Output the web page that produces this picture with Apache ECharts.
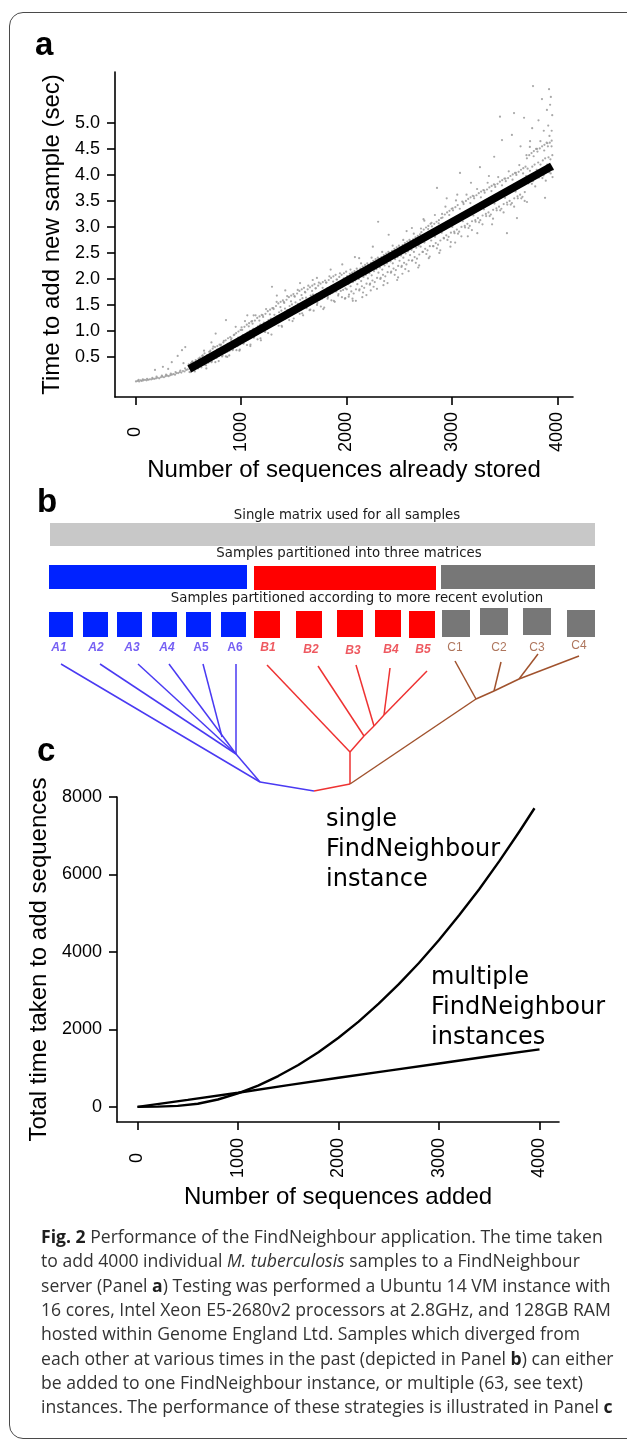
<!DOCTYPE html>
<html><head><meta charset="utf-8">
<script src="https://cdn.jsdelivr.net/npm/echarts@6/dist/echarts.min.js"></script>
<style>
html,body{margin:0;padding:0;background:#fff;}
body{width:627px;height:1441px;overflow:hidden;position:relative;}
#frame{position:absolute;left:9px;top:12px;width:680px;height:1427px;border:1.4px solid #4a4a4a;border-radius:14px;box-sizing:border-box;}
#chart{position:absolute;left:0;top:0;width:627px;height:1441px;}
</style></head><body>
<div id="frame"></div><div id="chart"></div>
<script>
// ---------- Panel a data ----------
const aXTicks = [0, 1000, 2000, 3000, 4000];
const aYTicks = [0.5, 1.0, 1.5, 2.0, 2.5, 3.0, 3.5, 4.0, 4.5, 5.0];
const aXTitle = 'Number of sequences already stored';
const aYTitle = 'Time to add new sample (sec)';
const fitLine = [[510, 0.27], [3948, 4.17]];
const addTimes = [
[5,0.03],[20,0.04],[30,0.06],[35,0.03],[50,0.05],[60,0.04],[70,0.07],[75,0.05],[90,0.06],[105,0.05],[110,0.08],[120,0.06],[135,0.07],[150,0.07],[160,0.10],[165,0.08],[180,0.08],[185,0.25],[195,0.09],[200,0.12],[210,0.10],[225,0.09],[240,0.11],[250,0.14],[255,0.12],[260,0.31],[270,0.11],[285,0.13],[290,0.16],[300,0.14],[310,0.27],[315,0.13],[330,0.15],[335,0.18],[344,0.40],[345,0.16],[360,0.17],[375,0.16],[380,0.21],[390,0.19],[400,0.52],[405,0.19],[420,0.21],[425,0.24],[435,0.20],[441,0.63],[450,0.23],[455,0.38],[465,0.22],[470,0.28],[472,0.69],[480,0.25],[495,0.26],
[505,0.36],[512,0.21],[519,0.30],[527,0.38],[534,0.24],[541,0.41],[548,0.27],[556,0.35],[563,0.22],[571,0.44],[578,0.31],[586,0.39],[593,0.28],[598,0.47],
[604,0.33],[611,0.49],[618,0.40],[625,0.30],[633,0.52],[640,0.44],[647,0.36],[655,0.57],[662,0.41],[669,0.34],[677,0.53],[684,0.46],[691,0.39],[698,0.60],[650,0.62],[672,0.28],
[703,0.45],[710,0.62],[717,0.55],[724,0.42],[732,0.66],[739,0.52],[746,0.47],[754,0.69],[761,0.58],[768,0.48],[776,0.71],[783,0.60],[790,0.52],[797,0.74],[720,0.78],[760,0.95],
[804,0.55],[811,0.74],[818,0.66],[825,0.53],[833,0.78],[840,0.63],[847,0.58],[855,0.82],[862,0.70],[869,0.60],[877,0.86],[884,0.74],[891,0.62],[898,0.88],[858,1.21],[870,0.50],
[903,0.68],[910,0.86],[917,0.78],[924,0.65],[932,0.92],[939,0.75],[946,0.70],[954,0.96],[961,0.82],[968,0.71],[976,0.99],[983,0.86],[990,0.74],[997,1.02],[950,1.08],[985,0.62],
[1004,0.80],[1011,1.02],[1018,0.92],[1025,0.76],[1033,1.08],[1040,0.90],[1047,0.82],[1055,1.12],[1062,0.97],[1069,0.84],[1077,1.15],[1084,1.00],[1091,0.86],[1098,1.18],[1060,1.30],[1090,0.74],
[1103,0.92],[1110,1.14],[1117,1.04],[1124,0.88],[1132,1.20],[1139,1.01],[1146,0.94],[1154,1.25],[1161,1.09],[1168,0.96],[1176,1.28],[1183,1.12],[1190,0.99],[1197,1.31],[1120,1.30],[1185,0.86],
[1203,1.05],[1210,1.27],[1217,1.16],[1224,1.00],[1232,1.33],[1239,1.13],[1246,1.06],[1254,1.38],[1261,1.21],[1268,1.08],[1276,1.41],[1283,1.24],[1290,1.11],[1297,1.44],[1230,0.98],[1294,1.85],
[1303,1.20],[1310,1.42],[1317,1.31],[1324,1.15],[1332,1.48],[1339,1.28],[1346,1.21],[1354,1.53],[1361,1.36],[1368,1.23],[1376,1.56],[1383,1.39],[1390,1.26],[1397,1.59],[1340,1.68],[1385,1.10],
[1403,1.31],[1410,1.54],[1417,1.43],[1424,1.26],[1432,1.60],[1439,1.40],[1446,1.33],[1454,1.65],[1461,1.48],[1468,1.35],[1476,1.68],[1483,1.51],[1490,1.38],[1497,1.71],[1420,1.78],[1500,1.24],
[1503,1.43],[1510,1.66],[1517,1.55],[1524,1.38],[1532,1.72],[1539,1.52],[1546,1.45],[1554,1.77],[1561,1.60],[1568,1.47],[1576,1.80],[1583,1.63],[1590,1.50],[1597,1.83],[1560,1.92],[1580,1.34],
[1603,1.52],[1610,1.74],[1617,1.64],[1624,1.47],[1632,1.80],[1639,1.60],[1646,1.53],[1654,1.84],[1661,1.68],[1668,1.55],[1676,1.87],[1683,1.70],[1690,1.58],[1697,1.90],[1680,1.98],[1650,1.40],
[1703,1.59],[1710,1.82],[1717,1.71],[1724,1.54],[1732,1.87],[1739,1.67],[1746,1.60],[1754,1.91],[1761,1.75],[1768,1.62],[1776,1.94],[1783,1.77],[1790,1.65],[1797,1.97],[1780,1.42],[1720,2.02],
[1803,1.70],[1810,1.93],[1817,1.82],[1824,1.65],[1832,1.98],[1839,1.78],[1846,1.71],[1854,2.02],[1861,1.86],[1868,1.73],[1876,2.05],[1883,1.88],[1890,1.76],[1897,2.08],[1850,2.18],[1880,1.58],
[1903,1.76],[1910,1.99],[1917,1.88],[1924,1.71],[1932,2.04],[1939,1.84],[1946,1.77],[1954,2.08],[1961,1.92],[1968,1.79],[1976,2.11],[1983,1.94],[1990,1.82],[1997,2.14],[1960,2.28],[1985,1.62],
[2003,1.80],[2010,2.05],[2017,1.90],[2024,1.70],[2032,2.10],[2039,1.86],[2046,1.76],[2054,2.12],[2061,1.94],[2068,1.72],[2076,2.15],[2083,1.97],[2090,1.80],[2097,2.20],[2080,2.42],[2060,1.58],
[2103,1.90],[2110,2.15],[2117,2.00],[2124,1.80],[2132,2.20],[2139,1.96],[2146,1.86],[2154,2.24],[2161,2.04],[2168,1.83],[2176,2.27],[2183,2.08],[2190,1.91],[2197,2.30],[2150,1.65],[2120,2.40],
[2203,2.01],[2210,2.26],[2217,2.11],[2224,1.91],[2232,2.31],[2239,2.07],[2246,1.97],[2254,2.35],[2261,2.15],[2268,1.94],[2276,2.38],[2283,2.19],[2290,2.02],[2297,2.41],[2250,2.62],[2230,1.78],
[2303,2.12],[2310,2.37],[2317,2.22],[2324,2.02],[2332,2.42],[2339,2.18],[2346,2.08],[2354,2.46],[2361,2.26],[2368,2.05],[2376,2.49],[2383,2.30],[2390,2.13],[2397,2.52],[2300,3.10],[2350,1.88],
[2403,2.24],[2410,2.49],[2417,2.34],[2424,2.14],[2432,2.54],[2439,2.30],[2446,2.20],[2454,2.58],[2461,2.38],[2468,2.17],[2476,2.61],[2483,2.42],[2490,2.25],[2497,2.64],[2400,2.85],[2480,1.98],
[2503,2.35],[2510,2.60],[2517,2.45],[2524,2.25],[2532,2.65],[2539,2.41],[2546,2.31],[2554,2.69],[2561,2.49],[2568,2.28],[2576,2.72],[2583,2.53],[2590,2.36],[2597,2.75],[2530,2.10],[2570,2.92],
[2603,2.46],[2610,2.71],[2617,2.56],[2624,2.36],[2632,2.76],[2639,2.52],[2646,2.42],[2654,2.80],[2661,2.60],[2668,2.39],[2676,2.83],[2683,2.64],[2690,2.47],[2697,2.86],[2620,2.98],[2680,2.22],
[2703,2.62],[2710,2.90],[2717,2.74],[2724,2.52],[2732,2.95],[2739,2.70],[2746,2.58],[2754,2.99],[2761,2.78],[2768,2.55],[2776,3.02],[2783,2.82],[2790,2.63],[2797,3.06],[2780,2.40],[2730,3.15],
[2803,2.74],[2810,3.01],[2817,2.85],[2824,2.63],[2832,3.06],[2839,2.81],[2846,2.69],[2854,3.10],[2861,2.89],[2868,2.66],[2876,3.13],[2883,2.93],[2890,2.74],[2897,3.17],[2858,3.75],[2880,2.50],
[2903,2.89],[2910,3.18],[2917,3.01],[2924,2.78],[2932,3.24],[2939,2.97],[2946,2.84],[2954,3.28],[2961,3.06],[2968,2.81],[2976,3.31],[2983,3.10],[2990,2.89],[2997,3.35],[2950,3.55],[2985,2.62],
[3003,3.00],[3010,3.32],[3017,3.13],[3024,2.88],[3032,3.38],[3039,3.09],[3046,2.95],[3054,3.42],[3061,3.18],[3068,2.91],[3076,4.04],[3083,3.22],[3090,3.00],[3097,3.49],[3050,3.62],[3030,2.70],
[3103,3.11],[3110,3.44],[3117,3.24],[3124,2.99],[3132,3.50],[3139,3.20],[3146,3.06],[3154,3.54],[3161,3.29],[3168,3.02],[3176,3.57],[3183,3.33],[3190,3.11],[3197,3.60],[3180,3.85],[3150,2.82],
[3203,3.22],[3210,3.55],[3217,3.35],[3224,3.10],[3232,3.61],[3239,3.31],[3246,3.17],[3254,3.65],[3261,3.40],[3268,3.13],[3276,3.68],[3283,3.44],[3290,3.22],[3297,3.71],[3265,4.15],[3240,2.88],
[3303,3.34],[3310,3.66],[3317,3.47],[3324,3.21],[3332,3.72],[3339,3.43],[3346,3.28],[3354,3.76],[3361,3.51],[3368,3.24],[3376,3.79],[3383,3.55],[3390,3.33],[3397,3.82],[3380,3.05],[3350,3.98],
[3403,3.45],[3410,3.77],[3417,3.58],[3424,3.32],[3432,3.83],[3439,3.54],[3446,3.39],[3454,3.87],[3461,3.62],[3468,3.35],[3476,3.90],[3483,3.66],[3490,3.44],[3497,3.93],[3455,5.12],[3474,4.67],[3400,4.35],
[3503,3.56],[3510,3.88],[3517,3.69],[3524,3.43],[3532,3.94],[3539,3.65],[3546,3.50],[3554,3.98],[3561,3.73],[3568,3.46],[3576,4.01],[3583,3.77],[3590,3.55],[3597,4.04],[3588,5.19],[3568,4.77],[3521,2.88],
[3603,3.68],[3610,4.00],[3617,3.81],[3624,3.55],[3632,4.06],[3639,3.77],[3646,3.62],[3654,4.10],[3661,3.85],[3668,3.58],[3676,4.13],[3683,3.89],[3690,3.67],[3697,4.16],[3683,5.10],[3616,3.17],[3650,4.55],
[3703,3.98],[3710,4.32],[3717,4.12],[3724,3.84],[3732,4.38],[3739,4.08],[3746,3.92],[3754,4.42],[3761,4.16],[3768,3.88],[3776,4.46],[3783,4.20],[3790,3.96],[3797,4.50],[3768,5.71],[3711,3.48],[3760,4.90],[3740,4.65],
[3803,4.10],[3810,4.45],[3817,4.24],[3824,3.95],[3832,4.51],[3839,4.20],[3846,4.03],[3854,4.55],[3861,4.28],[3868,3.99],[3876,4.58],[3883,4.32],[3890,4.08],[3897,4.62],[3853,5.46],[3882,3.56],[3820,5.05],[3870,4.85],
[3903,4.20],[3909,4.55],[3915,4.34],[3921,4.05],[3927,4.62],[3933,4.30],[3939,4.12],[3945,4.66],[3951,4.38],[3956,4.10],[3920,5.65],[3937,5.50],[3900,5.25],[3950,5.15],[3930,5.35],[3945,4.85],[3912,4.95],
[506,0.34],[521,0.21],[538,0.41],[557,0.24],[574,0.38],[589,0.31],
[606,0.45],[621,0.33],[638,0.53],[657,0.35],[674,0.50],[689,0.42],
[706,0.60],[721,0.40],[738,0.70],[757,0.40],[774,0.64],[789,0.42],
[806,0.72],[821,0.51],[838,0.81],[857,0.51],[874,0.75],[889,0.53],
[906,0.83],[921,0.63],[938,0.93],[957,0.63],[974,0.87],[989,0.64],
[1006,1.07],[1021,0.76],[1038,1.19],[1057,0.73],[1074,1.09],[1089,0.71],
[1106,1.19],[1121,0.87],[1138,1.30],[1157,0.84],[1174,1.20],[1189,0.82],
[1206,1.30],[1221,0.99],[1238,1.42],[1257,0.96],[1274,1.32],[1289,0.93],
[1306,1.44],[1321,1.13],[1338,1.56],[1357,1.10],[1374,1.46],[1389,1.08],
[1406,1.56],[1421,1.24],[1438,1.67],[1457,1.21],[1474,1.57],[1489,1.19],
[1506,1.67],[1521,1.36],[1538,1.79],[1557,1.33],[1574,1.69],[1589,1.30],
[1606,1.75],[1621,1.44],[1638,1.87],[1657,1.41],[1674,1.77],[1689,1.39],
[1706,1.82],[1721,1.50],[1738,1.93],[1757,1.47],[1774,1.83],[1789,1.45],
[1806,1.93],[1821,1.62],[1838,2.05],[1857,1.59],[1874,1.95],[1889,1.56],
[1906,1.99],[1921,1.68],[1938,2.11],[1957,1.65],[1974,2.01],[1989,1.63],
[2006,2.05],[2021,1.66],[2038,2.18],[2057,1.62],[2074,2.04],[2089,1.58],
[2106,2.16],[2121,1.78],[2138,2.30],[2157,1.74],[2174,2.16],[2189,1.69],
[2206,2.27],[2221,1.89],[2238,2.41],[2257,1.85],[2274,2.27],[2289,1.81],
[2306,2.39],[2321,2.00],[2338,2.52],[2357,1.96],[2374,2.38],[2389,1.92],
[2406,2.50],[2421,2.12],[2438,2.64],[2457,2.08],[2474,2.50],[2489,2.03],
[2506,2.61],[2521,2.23],[2538,2.75],[2557,2.19],[2574,2.61],[2589,2.15],
[2606,2.73],[2621,2.35],[2638,2.87],[2657,2.31],[2674,2.73],[2689,2.26],
[2706,2.97],[2721,2.52],[2738,3.12],[2757,2.48],[2774,2.96],[2789,2.43],
[2806,3.08],[2821,2.63],[2838,3.23],[2857,2.59],[2874,3.07],[2889,2.55],
[2906,3.25],[2921,2.79],[2938,3.39],[2957,2.75],[2974,3.23],[2989,2.71],
[3006,3.36],[3021,2.91],[3038,3.51],[3057,2.87],[3074,3.35],[3089,2.82],
[3106,3.47],[3121,3.02],[3138,3.62],[3157,2.98],[3174,3.46],[3189,2.94],
[3206,3.59],[3221,3.13],[3238,3.73],[3257,3.09],[3274,3.57],[3289,3.05],
[3306,3.70],[3321,3.25],[3338,3.85],[3357,3.21],[3374,3.69],[3389,3.16],
[3406,3.81],[3421,3.36],[3438,3.96],[3457,3.32],[3474,3.80],[3489,3.28],
[3506,3.93],[3521,3.47],[3538,4.07],[3557,3.43],[3574,3.91],[3589,3.39],
[3606,4.04],[3621,3.59],[3638,4.19],[3657,3.55],[3674,4.03],[3689,3.50],
[3706,4.38],[3721,3.87],[3738,4.54],[3757,3.83],[3774,4.36],[3789,3.78],
[3806,4.50],[3821,3.98],[3838,4.65],[3857,3.94],[3874,4.47],[3889,3.89],
[3904,4.61],[3913,4.09],[3924,4.75],[3936,4.03],[3944,4.55],[3953,3.96]
];

// ---------- Panel b data (schematic units) ----------
const levelTitles = ['Single matrix used for all samples', 'Samples partitioned into three matrices', 'Samples partitioned according to more recent evolution'];
const allSpan = [0, 545, 18, 41];
const groupSpans = [[-1, 197, 60, 84], [204, 386, 61, 85], [391, 545, 60, 84]];
const leafNames = ['A1','A2','A3','A4','A5','A6','B1','B2','B3','B4','B5','C1','C2','C3','C4'];
const leafGroup = [0,0,0,0,0,0,1,1,1,1,1,2,2,2,2];
const leafSpans = [[-1,23,107,132],[33,58,107,132],[67,92,107,132],[102,127,107,132],[136,161,107,132],[171,196,107,132],
  [204,230,106,133],[246,272,106,133],[287,313,105,132],[325,351,105,132],[359,385,106,133],
  [392,420,105,132],[430,458,103,130],[473,501,103,130],[517,545,105,132]];
const leafLabelPos = [[9,143],[46,143],[82,143],[117,143],[151,143],[185,143],[218,143],[261,145],[303,146],[341,145],[373,145],[405,143],[449,143],[487,143],[529,141]];
const treeNodes = {
  A1:[11,159], A2:[50,159], A3:[88,159], A4:[119,159], A5:[153,159], A6:[186,159],
  a5j:[172,232], aN:[186,249], aR:[210,277], root:[264,286],
  bR:[300,279], b1n:[300,247], b2n:[314,231], b3n:[324,221], b4n:[334,210],
  B1:[217,160], B2:[268,161], B3:[306,160], B4:[340,163], B5:[377,166],
  cR:[426,194], c2n:[444,186], c3n:[469,174],
  C1:[405,156], C2:[451,157], C3:[488,149], C4:[529,151]
};
const treeEdgesA = [['A1','aR'],['A2','aN'],['A3','aN'],['A4','aN'],['A5','a5j'],['A6','aN'],['aN','aR'],['aR','root']];
const treeEdgesB = [['root','bR'],['bR','b1n'],['B1','b1n'],['b1n','b2n'],['B2','b2n'],['b2n','b3n'],['B3','b3n'],['b3n','b4n'],['B4','b4n'],['B5','b4n']];
const treeEdgesC = [['bR','cR'],['C1','cR'],['cR','c2n'],['C2','c2n'],['c2n','c3n'],['C3','c3n'],['C4','c3n']];

// ---------- Panel c data ----------
const cXTicks = [0, 1000, 2000, 3000, 4000];
const cYTicks = [0, 2000, 4000, 6000, 8000];
const cXTitle = 'Number of sequences added';
const cYTitle = 'Total time taken to add sequences';
const singleX = [0,200,400,600,800,1000,1200,1400,1600,1800,2000,2200,2400,2600,2800,3000,3200,3400,3600,3800,3950];
const singleY = [0,5,25,80,190,350,550,795,1080,1410,1785,2200,2665,3170,3715,4310,4945,5620,6345,7110,7710];
const multiX = [0,500,1000,1500,2000,2500,3000,3500,4000];
const multiY = [0,180,365,560,750,935,1120,1305,1485];
const singleLabel = 'single\nFindNeighbour\ninstance';
const multiLabel = 'multiple\nFindNeighbour\ninstances';

const captionLines = [
 '{b|Fig. 2} Performance of the FindNeighbour application. The time taken',
 'to add 4000 individual {i|M. tuberculosis} samples to a FindNeighbour',
 'server (Panel {b|a}) Testing was performed a Ubuntu 14 VM instance with',
 '16 cores, Intel Xeon E5-2680v2 processors at 2.8GHz, and 128GB RAM',
 'hosted within Genome England Ltd. Samples which diverged from',
 'each other at various times in the past (depicted in Panel {b|b}) can either',
 'be added to one FindNeighbour instance, or multiple (63, see text)',
 'instances. The performance of these strategies is illustrated in Panel {b|c}'
];

// ---------- styles ----------
const AX = 'Liberation Sans';
const CAP = 17.6;
const groupFill = ['#0022ff', '#ff0000', '#777777'];
const treeColor = ['#4a3af2', '#ee3232', '#a0522d'];
const labelColor = ['#5237f0', '#ea3038', '#9a5233'];
const labelStyleByLeaf = ['bi','bi','bi','bi','b','b','bi','bi','bi','bi','bi','n','n','n','n'];

function axisCommon(ticks, fmt) {
  return {
    type: 'value', splitLine: {show: false},
    axisLine: {show: true, onZero: false, lineStyle: {color: '#000', width: 1.6}},
    axisTick: {show: true, customValues: ticks, length: 8, lineStyle: {color: '#000', width: 1.6}},
    axisLabel: {customValues: ticks, color: '#000', fontFamily: AX, fontSize: 18, formatter: fmt}
  };
}
function hiddenAxis(grid, min, max, inverse) {
  return {type: 'value', gridIndex: grid, min: min, max: max, inverse: !!inverse, show: false, splitLine: {show: false}};
}

const chart = echarts.init(document.getElementById('chart'), null, {renderer: 'canvas', width: 627, height: 1441});

const xa0 = axisCommon(aXTicks, v => String(v));
Object.assign(xa0, {gridIndex: 0, min: -194, max: 4147, name: aXTitle, nameLocation: 'middle', nameGap: 61,
  nameTextStyle: {fontFamily: AX, fontSize: 24, color: '#000'}});
Object.assign(xa0.axisLabel, {rotate: 90, align: 'center', verticalAlign: 'middle', margin: 35});
const ya0 = axisCommon(aYTicks, v => v.toFixed(1));
Object.assign(ya0, {gridIndex: 0, min: -0.27, max: 5.98, name: aYTitle, nameLocation: 'middle', nameGap: 45, nameRotate: 90,
  nameTextStyle: {fontFamily: AX, fontSize: 24, color: '#000'}});
ya0.axisLabel.margin = 15;

const xa2 = axisCommon(cXTicks, v => String(v));
Object.assign(xa2, {gridIndex: 2, min: -204, max: 4194, name: cXTitle, nameLocation: 'middle', nameGap: 63,
  nameTextStyle: {fontFamily: AX, fontSize: 24, color: '#000'}});
Object.assign(xa2.axisLabel, {rotate: 90, align: 'center', verticalAlign: 'middle', margin: 36});
const ya2 = axisCommon(cYTicks, v => String(v));
Object.assign(ya2, {gridIndex: 2, min: -391, max: 8000, name: cYTitle, nameLocation: 'middle', nameGap: 59, nameRotate: 90,
  nameTextStyle: {fontFamily: AX, fontSize: 24, color: '#000'}});
ya2.axisLabel.margin = 15;

const rectData = [];
rectData.push({value: allSpan.concat([-1])});
groupSpans.forEach((s, g) => rectData.push({value: s.concat([g])}));
leafSpans.forEach((s, i) => rectData.push({value: s.concat([leafGroup[i]])}));

const leafLabelData = leafNames.map((n, i) => {
  const st = labelStyleByLeaf[i];
  return {
    value: leafLabelPos[i], name: n,
    label: {color: labelColor[leafGroup[i]], fontWeight: st === 'n' ? 'normal' : 'bold', fontStyle: st === 'bi' ? 'italic' : 'normal'}
  };
});

function edgesData(list) {
  return list.map(e => ({coords: [treeNodes[e[0]], treeNodes[e[1]]]}));
}

const captionRich = {
  b: {fontFamily: 'Open Sans', fontSize: CAP, fontWeight: 'bold', fill: '#1e1e1e', lineHeight: 24.3},
  i: {fontFamily: 'Open Sans', fontSize: CAP, fontStyle: 'italic', fill: '#333', lineHeight: 24.3}
};

const option = {
  animation: false,
  backgroundColor: 'transparent',
  grid: [
    {left: 115, top: 72, width: 458, height: 325},
    {left: 50, top: 505, width: 545, height: 300},
    {left: 117, top: 797, width: 442, height: 325}
  ],
  xAxis: [xa0, hiddenAxis(1, 0, 545), xa2],
  yAxis: [ya0, hiddenAxis(1, 0, 300, true), ya2],
  graphic: [
    {type: 'text', x: 35, y: 46, style: {text: 'a', fontFamily: AX, fontSize: 33, fontWeight: 'bold', fill: '#000', verticalAlign: 'middle'}},
    {type: 'text', x: 37, y: 503, style: {text: 'b', fontFamily: AX, fontSize: 33, fontWeight: 'bold', fill: '#000', verticalAlign: 'middle'}},
    {type: 'text', x: 37, y: 752, style: {text: 'c', fontFamily: AX, fontSize: 33, fontWeight: 'bold', fill: '#000', verticalAlign: 'middle'}},
    {type: 'text', x: 347, y: 516, style: {text: levelTitles[0], fontFamily: 'DejaVu Sans', fontSize: 13.3, fill: '#1a1a1a', align: 'center', verticalAlign: 'middle'}},
    {type: 'text', x: 349, y: 554, style: {text: levelTitles[1], fontFamily: 'DejaVu Sans', fontSize: 13.3, fill: '#1a1a1a', align: 'center', verticalAlign: 'middle'}},
    {type: 'text', x: 357, y: 599, style: {text: levelTitles[2], fontFamily: 'DejaVu Sans', fontSize: 13.3, fill: '#1a1a1a', align: 'center', verticalAlign: 'middle'}},
    {type: 'text', x: 326, y: 805, style: {text: singleLabel, fontFamily: 'DejaVu Sans', fontSize: 24, lineHeight: 30, fill: '#000', verticalAlign: 'top'}},
    {type: 'text', x: 431, y: 963, style: {text: multiLabel, fontFamily: 'DejaVu Sans', fontSize: 24, lineHeight: 30, fill: '#000', verticalAlign: 'top'}},
    {type: 'text', x: 41, y: 1226, style: {text: captionLines.join('\n'), fontFamily: 'Open Sans', fontSize: CAP, lineHeight: 24.3, fill: '#333', verticalAlign: 'top', rich: captionRich}}
  ],
  series: [
    {type: 'scatter', xAxisIndex: 0, yAxisIndex: 0, data: addTimes, symbol: 'circle', symbolSize: 2.2,
      itemStyle: {color: '#999999', opacity: 0.85}, silent: true},
    {type: 'line', xAxisIndex: 0, yAxisIndex: 0, data: fitLine, symbol: 'none',
      lineStyle: {color: '#000', width: 8, cap: 'butt'}, silent: true},
    {type: 'custom', xAxisIndex: 1, yAxisIndex: 1, data: rectData, silent: true,
      renderItem: function (params, api) {
        const p0 = api.coord([api.value(0), api.value(2)]);
        const p1 = api.coord([api.value(1), api.value(3)]);
        const g = api.value(4);
        return {type: 'rect', shape: {x: p0[0], y: p0[1], width: p1[0] - p0[0], height: p1[1] - p0[1]},
          style: {fill: g < 0 ? '#c8c8c8' : groupFill[g]}};
      }},
    {type: 'scatter', xAxisIndex: 1, yAxisIndex: 1, data: leafLabelData, symbolSize: 0, silent: true,
      label: {show: true, position: 'inside', formatter: '{b}', fontFamily: AX, fontSize: 12}},
    {type: 'lines', coordinateSystem: 'cartesian2d', xAxisIndex: 1, yAxisIndex: 1, data: edgesData(treeEdgesA),
      lineStyle: {color: treeColor[0], width: 1.5, opacity: 1, curveness: 0}, silent: true},
    {type: 'lines', coordinateSystem: 'cartesian2d', xAxisIndex: 1, yAxisIndex: 1, data: edgesData(treeEdgesB),
      lineStyle: {color: treeColor[1], width: 1.5, opacity: 1, curveness: 0}, silent: true},
    {type: 'lines', coordinateSystem: 'cartesian2d', xAxisIndex: 1, yAxisIndex: 1, data: edgesData(treeEdgesC),
      lineStyle: {color: treeColor[2], width: 1.5, opacity: 1, curveness: 0}, silent: true},
    {type: 'line', xAxisIndex: 2, yAxisIndex: 2, data: singleX.map((x, i) => [x, singleY[i]]), symbol: 'none',
      smooth: false, lineStyle: {color: '#000', width: 2.4, join: 'round'}, silent: true},
    {type: 'line', xAxisIndex: 2, yAxisIndex: 2, data: multiX.map((x, i) => [x, multiY[i]]), symbol: 'none',
      lineStyle: {color: '#000', width: 2.4}, silent: true}
  ]
};
chart.setOption(option);
</script>
</body></html>
